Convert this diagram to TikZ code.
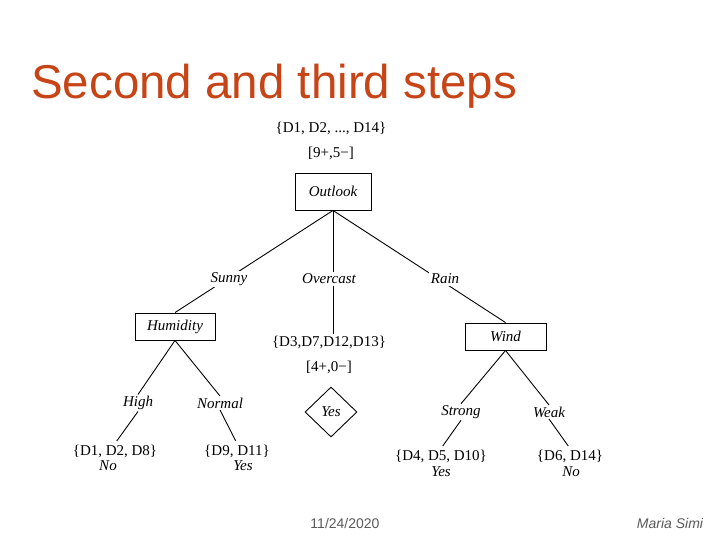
\documentclass[tikz,border=0pt]{standalone}
\usepackage{fontspec}
\setmainfont{Liberation Serif}
\newfontfamily\arialfont{Liberation Sans}
\usetikzlibrary{shapes.geometric}
\definecolor{titlered}{RGB}{198,68,22}
\definecolor{footgray}{RGB}{90,90,90}
\tikzset{
  attr/.style={draw, line width=0.9pt, minimum width=77pt, minimum height=27pt, inner sep=0pt, font=\fontsize{15}{17}\selectfont\itshape},
  val/.style={fill=white, inner sep=1.5pt, font=\fontsize{15}{17}\selectfont\itshape},
  setlab/.style={inner sep=1pt, font=\fontsize{15}{17}\selectfont},
  cls/.style={inner sep=1pt, font=\fontsize{15}{17}\selectfont\itshape},
  edge/.style={line width=0.9pt},
  lowedge/.style={line width=0.9pt, shorten >=3pt},
}
\begin{document}
\begin{tikzpicture}[x=1pt,y=-1pt]
\useasboundingbox (0,0) rectangle (720,540);
% title
\node[anchor=west, inner sep=0pt, text=titlered, font=\arialfont\fontsize{47.5}{50}\selectfont] (title) at (31,86) {Second and third steps};
% root
\node[setlab] (rootset) at (331,128) {\{D1, D2, ..., D14\}};
\node[setlab] (rootcnt) at (331,153) {[9+,5−]};
\node[attr, minimum width=76pt, minimum height=37pt] (outlook) at (333,191.5) {Outlook};
% second level
\node[attr, minimum width=80pt] (humidity) at (175,326.5) {Humidity};
\node[attr, minimum width=81pt] (wind) at (505.5,336.5) {Wind};
\node[setlab] (ovset) at (329,342) {\{D3,D7,D12,D13\}};
\node[setlab] (ovcnt) at (329,367) {[4+,0−]};
\draw[edge] (outlook.south) -- (humidity.north);
\draw[edge] (outlook.south) -- (ovset.north -| outlook.south);
\draw[edge] (outlook.south) -- (wind.north);
\node[val] (sunny) at (229,279) {Sunny};
\node[val] (overcast) at (329,279) {Overcast};
\node[val] (rain) at (445,279) {Rain};
% yes diamond
\node[diamond, draw, line width=0.9pt, minimum width=52pt, minimum height=50pt, inner sep=0pt, font=\fontsize{15}{17}\selectfont\itshape] (yesleaf) at (331,412) {Yes};
% humidity branches
\node[val] (high) at (138,403) {High};
\node[val] (normal) at (220,403) {Normal};
\node[setlab] (d128) at (115,451) {\{D1, D2, D8\}};
\node[cls] (no1) at (108,466) {No};
\node[setlab] (d911) at (237,451) {\{D9, D11\}};
\node[cls] (yes1) at (243,466) {Yes};
\draw[edge] (humidity.south) -- (high.north);
\draw[lowedge] (high.south) -- (d128.north);
\draw[edge] (humidity.south) -- (normal.north);
\draw[lowedge] (normal.south) -- (d911.north);
% wind branches
\node[val] (strong) at (461,412) {Strong};
\node[val] (weak) at (549,412) {Weak};
\node[setlab] (d4510) at (441,456) {\{D4, D5, D10\}};
\node[cls] (yes2) at (441,472) {Yes};
\node[setlab] (d614) at (570,456) {\{D6, D14\}};
\node[cls] (no2) at (571,472) {No};
\draw[edge] (wind.south) -- (strong.north);
\draw[lowedge] (strong.south) -- (d4510.north);
\draw[edge] (wind.south) -- (weak.north);
\draw[lowedge] (weak.south) -- (d614.north);
% footer
\node[text=footgray, font=\arialfont\fontsize{14}{16}\selectfont] (date) at (345,523) {11/24/2020};
\node[text=footgray, font=\arialfont\itshape\fontsize{14}{16}\selectfont] (author) at (670,523) {Maria Simi};
\end{tikzpicture}
\end{document}
